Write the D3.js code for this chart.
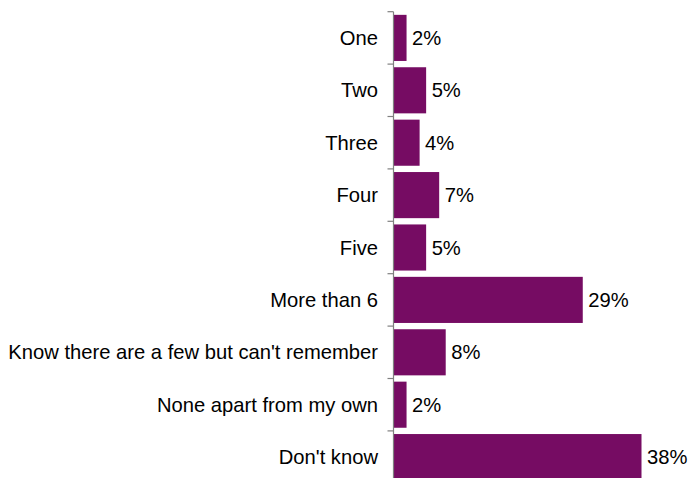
<!DOCTYPE html>
<html>
<head>
<meta charset="utf-8">
<script src="https://cdn.jsdelivr.net/npm/d3@7"></script>
<style>
  html, body { margin: 0; padding: 0; background: #fff; }
  svg { display: block; }
  text { font-family: "Liberation Sans", Arial, sans-serif; }
</style>
</head>
<body>
<svg id="chart" width="689" height="478"></svg>
<script>
// Survey responses: share of respondents per answer (%)
const categories = [
  "One", "Two", "Three", "Four", "Five", "More than 6",
  "Know there are a few but can't remember", "None apart from my own", "Don't know"
];
const values = [2, 5, 4, 7, 5, 29, 8, 2, 38];

const svg = d3.select("#chart");
const x0 = 393.5;
const fontSize = 20.2;

const y = d3.scaleBand()
  .domain(categories)
  .range([11.7, 483.3])
  .paddingInner(0.12)
  .paddingOuter(0.06);

const x = d3.scaleLinear()
  .domain([0, 38])
  .range([x0, x0 + 248]);

const barColor = "#760c63";

svg.append("g")
  .selectAll("rect")
  .data(values)
  .join("rect")
  .attr("x", x(0))
  .attr("y", (d, i) => y(categories[i]))
  .attr("width", d => x(d) - x(0))
  .attr("height", y.bandwidth())
  .attr("fill", barColor);

// value labels
svg.append("g")
  .selectAll("text")
  .data(values)
  .join("text")
  .attr("x", d => x(d) + 5.5)
  .attr("y", (d, i) => y(categories[i]) + y.bandwidth() / 2)
  .attr("dy", "0.35em")
  .attr("font-size", fontSize)
  .attr("fill", "#000")
  .text(d => d + "%");

// category axis with ticks on band boundaries
const axis = svg.append("g");
const r = y.range();
axis.append("line")
  .attr("x1", x0).attr("x2", x0)
  .attr("y1", r[0]).attr("y2", r[1])
  .attr("stroke", "#808080").attr("stroke-width", 1.2);
const step = (r[1] - r[0]) / categories.length;
axis.selectAll("line.tick")
  .data(d3.range(categories.length + 1))
  .join("line")
  .attr("class", "tick")
  .attr("x1", x0 - 6).attr("x2", x0)
  .attr("y1", i => r[0] + i * step)
  .attr("y2", i => r[0] + i * step)
  .attr("stroke", "#808080").attr("stroke-width", 1.2);

axis.selectAll("text")
  .data(categories)
  .join("text")
  .attr("x", 378)
  .attr("y", d => y(d) + y.bandwidth() / 2)
  .attr("dy", "0.35em")
  .attr("text-anchor", "end")
  .attr("font-size", fontSize)
  .attr("fill", "#000")
  .text(d => d);
</script>
</body>
</html>
